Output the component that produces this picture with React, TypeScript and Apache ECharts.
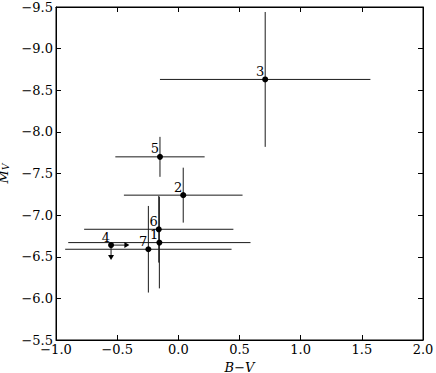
import React, { useEffect, useRef } from "react";
import * as echarts from "echarts";

const starLabels = ["1", "2", "3", "4", "5", "6", "7"];
const bvValues = [-0.155, 0.04, 0.71, -0.55, -0.15, -0.16, -0.245];
const mvValues = [-6.67, -7.24, -8.63, -6.64, -7.70, -6.83, -6.59];
const bvErrors = [0.745, 0.485, 0.86, 0, 0.365, 0.61, 0.68];
const mvErrors = [0.55, 0.33, 0.81, 0, 0.24, 0.4, 0.52];
// limit arrows (star 4): length of arrow in data units
const bvLimitArrows = [0, 0, 0, 0.15, 0, 0, 0];
const mvLimitArrows = [0, 0, 0, 0.18, 0, 0, 0];

const xTicks = [-1.0, -0.5, 0.0, 0.5, 1.0, 1.5, 2.0];
const yTicks = [-9.5, -9.0, -8.5, -8.0, -7.5, -7.0, -6.5, -6.0, -5.5];

const FONT = "DejaVu Serif";
const fmt = (v: number) => (v < 0 ? "\u2212" : "") + Math.abs(v).toFixed(1);

export default function App() {
  const ref = useRef<HTMLDivElement>(null);
  useEffect(() => {
    if (!ref.current) return;
    const chart = echarts.init(ref.current, undefined, { renderer: "svg" });
    const errData = starLabels.map((_, i) => [
      bvValues[i],
      mvValues[i],
      bvErrors[i],
      mvErrors[i],
      bvLimitArrows[i],
      mvLimitArrows[i],
    ]);
    const pts = starLabels.map((n, i) => ({ name: n, value: [bvValues[i], mvValues[i]] }));
    const lineStyle = { stroke: "#1a1a1a", lineWidth: 1 };
    const tickCommon = {
      show: true,
      inside: true,
      length: 5,
      lineStyle: { color: "#000", width: 1 },
    };
    const axisLine = { show: true, onZero: false, lineStyle: { color: "#000", width: 1 } };
    chart.setOption({
      animation: false,
      grid: {
        left: 56,
        right: 13,
        top: 7,
        bottom: 33,
        containLabel: false,
        outerBoundsMode: "none",
        show: true,
        borderColor: "#000",
        borderWidth: 1,
        backgroundColor: "transparent",
      },
      xAxis: [
        {
          type: "value",
          min: -1,
          max: 2,
          interval: 0.5,
          position: "bottom",
          name: "B\u2212V",
          nameLocation: "middle",
          nameGap: 18,
          nameTextStyle: { fontFamily: FONT, fontSize: 13, fontStyle: "italic", color: "#000" },
          axisLine,
          axisTick: tickCommon,
          splitLine: { show: false },
          axisLabel: {
            fontFamily: FONT,
            fontSize: 13,
            color: "#000",
            margin: 3,
            formatter: fmt,
            customValues: xTicks,
          },
        },
        {
          type: "value",
          min: -1,
          max: 2,
          interval: 0.5,
          position: "top",
          axisLine,
          axisTick: tickCommon,
          splitLine: { show: false },
          axisLabel: { show: false },
        },
      ],
      yAxis: [
        {
          type: "value",
          min: -9.5,
          max: -5.5,
          interval: 0.5,
          inverse: true,
          position: "left",
          name: "{m|M}{s|V}",
          nameLocation: "middle",
          nameGap: 33,
          nameTextStyle: {
            rich: {
              m: { fontFamily: FONT, fontSize: 13, fontStyle: "italic", color: "#000" },
              s: { fontFamily: FONT, fontSize: 9, fontStyle: "italic", color: "#000", padding: [6, 0, 0, 0] },
            },
          },
          axisLine,
          axisTick: tickCommon,
          splitLine: { show: false },
          axisLabel: {
            fontFamily: FONT,
            fontSize: 13,
            color: "#000",
            margin: 3,
            formatter: fmt,
            customValues: yTicks,
          },
        },
        {
          type: "value",
          min: -9.5,
          max: -5.5,
          interval: 0.5,
          inverse: true,
          position: "right",
          axisLine,
          axisTick: tickCommon,
          splitLine: { show: false },
          axisLabel: { show: false },
        },
      ],
      series: [
        {
          type: "custom",
          xAxisIndex: 0,
          yAxisIndex: 0,
          data: errData,
          z: 2,
          renderItem: (params: any, api: any) => {
            const x = api.value(0);
            const y = api.value(1);
            const xe = api.value(2);
            const ye = api.value(3);
            const xa = api.value(4);
            const ya = api.value(5);
            const children: any[] = [];
            if (xe > 0) {
              const a = api.coord([x - xe, y]);
              const b = api.coord([x + xe, y]);
              children.push({ type: "line", shape: { x1: a[0], y1: a[1], x2: b[0], y2: b[1] }, style: lineStyle });
            }
            if (ye > 0) {
              const a = api.coord([x, y - ye]);
              const b = api.coord([x, y + ye]);
              children.push({ type: "line", shape: { x1: a[0], y1: a[1], x2: b[0], y2: b[1] }, style: lineStyle });
            }
            const c = api.coord([x, y]);
            if (xa > 0) {
              const e = api.coord([x + xa, y]);
              children.push({ type: "line", shape: { x1: c[0], y1: c[1], x2: e[0] - 4, y2: e[1] }, style: lineStyle });
              children.push({
                type: "polygon",
                shape: { points: [[e[0], e[1]], [e[0] - 5, e[1] - 3], [e[0] - 5, e[1] + 3]] },
                style: { fill: "#000" },
              });
            }
            if (ya > 0) {
              const e = api.coord([x, y + ya]);
              children.push({ type: "line", shape: { x1: c[0], y1: c[1], x2: e[0], y2: e[1] - 4 }, style: lineStyle });
              children.push({
                type: "polygon",
                shape: { points: [[e[0], e[1]], [e[0] - 3, e[1] - 5], [e[0] + 3, e[1] - 5]] },
                style: { fill: "#000" },
              });
            }
            return { type: "group", children };
          },
        },
        {
          type: "scatter",
          xAxisIndex: 0,
          yAxisIndex: 0,
          data: pts,
          symbol: "circle",
          symbolSize: 6,
          z: 3,
          itemStyle: { color: "#000", opacity: 1 },
          label: {
            show: true,
            formatter: "{b}",
            position: [2, -5],
            align: "right",
            verticalAlign: "middle",
            fontFamily: FONT,
            fontSize: 13,
            color: "#000",
            opacity: 1,
            textBorderWidth: 0,
          },
        },
      ],
    });
    return () => chart.dispose();
  }, []);
  return (
    <div
      ref={ref}
      style={{ position: "fixed", left: 0, top: 0, width: 436, height: 373, background: "#fff" }}
    />
  );
}
